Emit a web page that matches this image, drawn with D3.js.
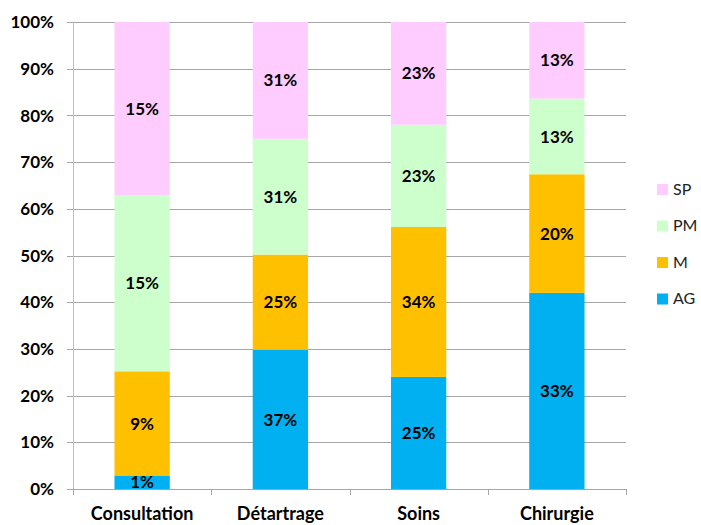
<!DOCTYPE html>
<html>
<head>
<meta charset="utf-8">
<script src="https://cdn.jsdelivr.net/npm/d3@7"></script>
<style>
  body { margin: 0; background: #fff; }
  text { font-family: Lato, "Open Sans", sans-serif; }
</style>
</head>
<body>
<div id="chart"></div>
<script>
// Categories and series (bar heights in % of each column, labels as printed)
const categories = ['Consultation', 'Détartrage', 'Soins', 'Chirurgie'];
const seriesNames = ['AG', 'M', 'PM', 'SP'];
const agValues = [2.9, 29.8, 24.0, 42.0];
const mValues = [22.3, 20.4, 32.1, 25.4];
const pmValues = [37.7, 24.8, 21.9, 16.2];
const spValues = [37.1, 25.0, 22.0, 16.4];
const agLabels = ['1%', '37%', '25%', '33%'];
const mLabels = ['9%', '25%', '34%', '20%'];
const pmLabels = ['15%', '31%', '23%', '13%'];
const spLabels = ['15%', '31%', '23%', '13%'];
const yTicks = [0, 10, 20, 30, 40, 50, 60, 70, 80, 90, 100];

const colors = { AG: '#00B0F0', M: '#FFC000', PM: '#CCFFCC', SP: '#FFCCFF' };
const valuesBy = { AG: agValues, M: mValues, PM: pmValues, SP: spValues };
const labelsBy = { AG: agLabels, M: mLabels, PM: pmLabels, SP: spLabels };

const width = 701, height = 525;
const margin = { left: 73, right: 75, top: 22, bottom: 36 };

const svg = d3.select('#chart').append('svg')
    .attr('width', width)
    .attr('height', height);

const x = d3.scaleBand()
    .domain(categories)
    .range([margin.left, width - margin.right])
    .paddingInner(0.6)
    .paddingOuter(0.3);

const y = d3.scaleLinear()
    .domain([0, 100])
    .range([height - margin.bottom, margin.top]);

// Gridlines
svg.append('g')
    .selectAll('line')
    .data(yTicks)
    .enter()
    .append('line')
    .attr('x1', margin.left - 6)
    .attr('x2', width - margin.right)
    .attr('y1', d => Math.round(y(d)) + 0.5)
    .attr('y2', d => Math.round(y(d)) + 0.5)
    .attr('stroke', '#a6a6a6')
    .attr('stroke-width', 1);

// Y tick labels
svg.append('g')
    .selectAll('text')
    .data(yTicks)
    .enter()
    .append('text')
    .attr('x', 54)
    .attr('y', d => y(d))
    .attr('dy', '0.36em')
    .attr('text-anchor', 'end')
    .style('font-size', '17px')
    .style('font-weight', '700')
    .style('fill', '#000')
    .text(d => d + '%');

// Stack data
const rows = categories.map((c, i) => {
    const r = { category: c, index: i };
    seriesNames.forEach(s => { r[s] = valuesBy[s][i]; });
    return r;
});
const stacked = d3.stack().keys(seriesNames)(rows);

const layers = svg.append('g')
    .selectAll('g')
    .data(stacked)
    .enter()
    .append('g')
    .attr('fill', d => colors[d.key]);

layers.selectAll('rect')
    .data(d => d.map(p => ({ key: d.key, p })))
    .enter()
    .append('rect')
    .attr('x', d => x(d.p.data.category))
    .attr('width', x.bandwidth())
    .attr('y', d => y(d.p[1]))
    .attr('height', d => y(d.p[0]) - y(d.p[1]));

// Segment labels
layers.selectAll('text')
    .data(d => d.map(p => ({ key: d.key, p })))
    .enter()
    .append('text')
    .attr('x', d => x(d.p.data.category) + x.bandwidth() / 2)
    .attr('y', d => (y(d.p[0]) + y(d.p[1])) / 2)
    .attr('dy', '0.36em')
    .attr('text-anchor', 'middle')
    .style('font-size', '17px')
    .style('font-weight', '700')
    .style('fill', '#000')
    .text(d => labelsBy[d.key][d.p.data.index]);

// Axes lines
svg.append('line')
    .attr('x1', margin.left + 0.5)
    .attr('x2', margin.left + 0.5)
    .attr('y1', margin.top)
    .attr('y2', height - margin.bottom + 6)
    .attr('stroke', '#bfbfbf');

const step = (width - margin.right - margin.left) / categories.length;
svg.append('g')
    .selectAll('line')
    .data(d3.range(categories.length + 1))
    .enter()
    .append('line')
    .attr('x1', i => Math.round(margin.left + i * step) + 0.5)
    .attr('x2', i => Math.round(margin.left + i * step) + 0.5)
    .attr('y1', y(0))
    .attr('y2', y(0) + 6)
    .attr('stroke', '#a6a6a6');

// X labels
svg.append('g')
    .selectAll('text')
    .data(categories)
    .enter()
    .append('text')
    .attr('x', d => x(d) + x.bandwidth() / 2)
    .attr('y', 520)
    .attr('text-anchor', 'middle')
    .style('font-size', '18px')
    .style('font-weight', '700')
    .style('fill', '#000')
    .text(d => d);

// Legend (top to bottom: SP, PM, M, AG)
const legendItems = seriesNames.slice().reverse();
const legend = svg.append('g')
    .selectAll('g')
    .data(legendItems)
    .enter()
    .append('g')
    .attr('transform', (d, i) => `translate(657, ${189 + i * 36.5})`);

legend.append('rect')
    .attr('x', 0)
    .attr('y', -5)
    .attr('width', 11)
    .attr('height', 11)
    .attr('fill', d => colors[d]);

legend.append('text')
    .attr('x', 16)
    .attr('y', 0)
    .attr('dy', '0.36em')
    .style('font-size', '16px')
    .style('fill', '#222')
    .text(d => d);
</script>
</body>
</html>
